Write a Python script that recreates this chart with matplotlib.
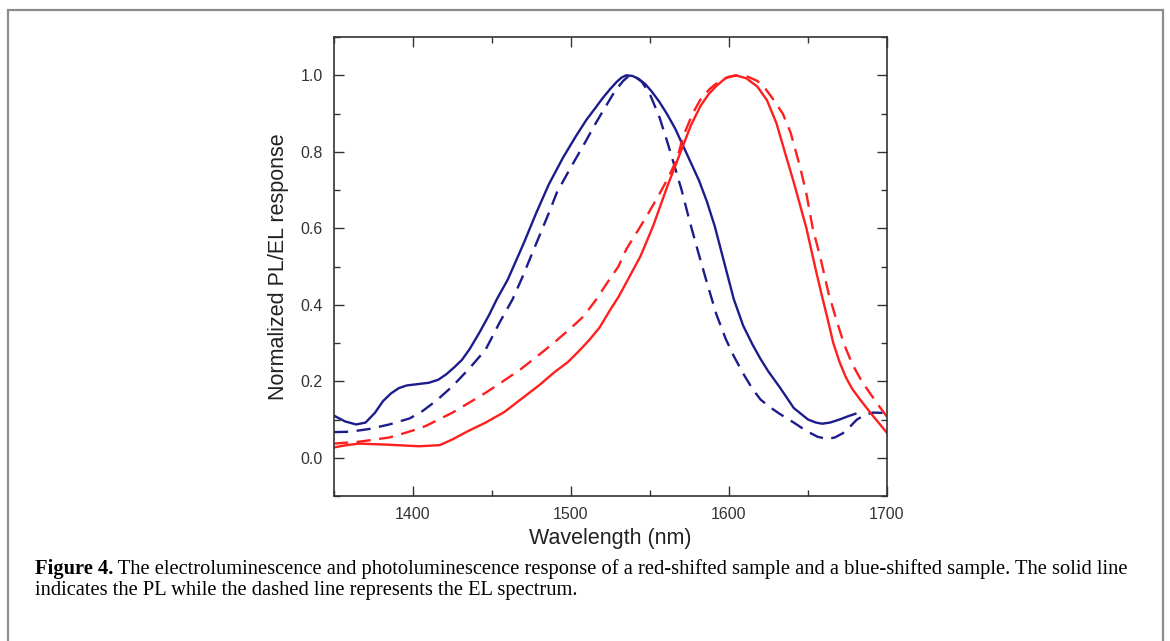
import matplotlib
matplotlib.use('Agg')
import matplotlib.pyplot as plt
from matplotlib.patches import Rectangle
from matplotlib.ticker import MultipleLocator

# blue-shifted sample, PL (solid)
blue_pl_x = [1350, 1357, 1364, 1370, 1376, 1381, 1386, 1391, 1396, 1402, 1410, 1416, 1421,
             1426, 1431, 1436, 1442, 1448, 1453, 1460, 1470, 1478, 1486, 1495, 1503, 1510,
             1515, 1520, 1525, 1529, 1532, 1535, 1539, 1543, 1547, 1551, 1556, 1561, 1566,
             1571, 1576, 1581, 1586, 1591, 1597, 1603, 1609, 1615, 1620, 1625, 1632, 1641,
             1650, 1655, 1659, 1664, 1670, 1675, 1680]
blue_pl_y = [0.11, 0.095, 0.087, 0.092, 0.118, 0.148, 0.168, 0.182, 0.189, 0.192, 0.196, 0.204,
             0.218, 0.236, 0.256, 0.285, 0.327, 0.372, 0.414, 0.466, 0.56, 0.64, 0.715, 0.785,
             0.84, 0.885, 0.912, 0.94, 0.965, 0.983, 0.994, 1.0, 0.998, 0.99, 0.977, 0.958,
             0.93, 0.897, 0.86, 0.815, 0.77, 0.725, 0.67, 0.605, 0.51, 0.415, 0.345, 0.295,
             0.258, 0.225, 0.185, 0.13, 0.1, 0.092, 0.089, 0.092, 0.1, 0.108, 0.115]

# blue-shifted sample, EL (dashed)
blue_el_x = [1350, 1360, 1372, 1385, 1398, 1406, 1415, 1425, 1436, 1446, 1455, 1463,
             1469, 1474, 1480, 1486, 1491, 1500, 1509, 1515, 1520, 1528, 1533, 1537,
             1541, 1545, 1550, 1556, 1561, 1565, 1570, 1575, 1580, 1586, 1592, 1598,
             1603, 1609, 1615, 1620, 1626, 1632, 1641, 1649, 1656, 1662, 1667, 1672,
             1677, 1681, 1686, 1691, 1700]
blue_el_y = [0.067, 0.068, 0.075, 0.087, 0.103, 0.122, 0.15, 0.187, 0.235, 0.283, 0.355, 0.414,
             0.47, 0.52, 0.58, 0.64, 0.693, 0.76, 0.825, 0.87, 0.905, 0.96, 0.985, 1.0,
             0.995, 0.982, 0.95, 0.89, 0.825, 0.77, 0.7, 0.62, 0.545, 0.458, 0.375, 0.31,
             0.266, 0.22, 0.179, 0.152, 0.132, 0.115, 0.092, 0.07, 0.055, 0.049, 0.053, 0.064,
             0.083, 0.1, 0.112, 0.118, 0.117]

# red-shifted sample, PL (solid)
red_pl_x = [1350, 1358, 1366, 1385, 1404, 1417, 1425, 1435, 1446, 1458, 1468, 1480,
            1489, 1498, 1506, 1512, 1518, 1525, 1530, 1535, 1544, 1552, 1561, 1570,
            1576, 1582, 1587, 1592, 1598, 1604, 1611, 1618, 1624, 1630, 1636, 1641, 1645,
            1649, 1655, 1659, 1662, 1666, 1670, 1674, 1678, 1683, 1690, 1695, 1700]
red_pl_y = [0.027, 0.033, 0.037, 0.034, 0.03, 0.033, 0.048, 0.07, 0.092, 0.12, 0.152, 0.19,
            0.222, 0.25, 0.283, 0.31, 0.34, 0.388, 0.42, 0.458, 0.527, 0.606, 0.71, 0.806,
            0.87, 0.92, 0.95, 0.972, 0.993, 1.0, 0.992, 0.97, 0.935, 0.875, 0.79, 0.72, 0.66,
            0.6, 0.49, 0.42, 0.37, 0.3, 0.25, 0.21, 0.18, 0.152, 0.115, 0.09, 0.065]

# red-shifted sample, EL (dashed)
red_el_x = [1350, 1366, 1385, 1395, 1402, 1408, 1425, 1436, 1446, 1457, 1468, 1480,
            1489, 1501, 1508, 1516, 1523, 1530, 1535, 1548, 1556, 1561, 1567, 1571,
            1577, 1582, 1588, 1594, 1600, 1607, 1612, 1618, 1623, 1628, 1634, 1639, 1645,
            1649, 1653, 1658, 1663, 1668, 1673, 1678, 1684, 1689, 1695, 1700]
red_el_y = [0.037, 0.042, 0.053, 0.065, 0.074, 0.083, 0.118, 0.145, 0.17, 0.2, 0.231, 0.27,
            0.3, 0.343, 0.37, 0.414, 0.458, 0.5, 0.545, 0.632, 0.69, 0.728, 0.78, 0.84,
            0.9, 0.937, 0.965, 0.985, 0.996, 1.0, 0.996, 0.985, 0.965, 0.937, 0.9, 0.85, 0.76,
            0.69, 0.6, 0.52, 0.43, 0.36, 0.295, 0.245, 0.2, 0.17, 0.135, 0.107]

caption_bold = 'Figure 4.'
caption_1 = (' The electroluminescence and photoluminescence response of a red-shifted sample '
             'and a blue-shifted sample. The solid line')
caption_2 = 'indicates the PL while the dashed line represents the EL spectrum.'

navy = '#1c1c8c'
red = '#ff1f1f'

plt.rcParams['font.family'] = ['Liberation Sans', 'DejaVu Sans']

fig = plt.figure(figsize=(11.7, 6.41), dpi=100)
ax = fig.add_axes([334 / 1170, 1 - 496 / 641, 553 / 1170, 459 / 641])

ax.plot(blue_pl_x, blue_pl_y, color=navy, lw=1.7)
ax.plot(blue_el_x, blue_el_y, color=navy, lw=1.7, dashes=(6, 3.6))
ax.plot(red_pl_x, red_pl_y, color=red, lw=1.7)
ax.plot(red_el_x, red_el_y, color=red, lw=1.7, dashes=(6, 3.6))

ax.set_xlim(1350, 1700)
ax.set_ylim(-0.1, 1.1)
ax.xaxis.set_major_locator(MultipleLocator(100))
ax.xaxis.set_minor_locator(MultipleLocator(50))
ax.yaxis.set_minor_locator(MultipleLocator(0.1))
ax.set_yticks([0.0, 0.2, 0.4, 0.6, 0.8, 1.0])
ax.set_yticklabels(['0.0', '0.2', '0.4', '0.6', '0.8', '1.0'])

ax.tick_params(which='both', direction='in', top=True, right=True, color='#333333', width=1)
ax.tick_params(which='major', length=7, labelsize=11.5, labelcolor='#333333', pad=8)
ax.tick_params(which='minor', length=4)
for s in ax.spines.values():
    s.set_color('#333333')
    s.set_linewidth(1.2)

ax.set_xlabel('Wavelength (nm)', fontsize=15.5, color='#222222', labelpad=4)
ax.set_ylabel('Normalized PL/EL response', fontsize=15.5, color='#222222', labelpad=8)

# page frame
fig.patches.append(Rectangle((8 / 1170, -0.05), 1155 / 1170, 1.05 - 10 / 641,
                             transform=fig.transFigure, fill=False,
                             edgecolor='#8c8c8c', lw=1.6))

t = fig.text(35 / 1170, 1 - 574 / 641, caption_bold, fontsize=14.75, fontweight='bold',
             family='Liberation Serif', va='baseline', ha='left')
fig.canvas.draw()
bb = t.get_window_extent()
fig.text(bb.x1 / 1170, 1 - 574 / 641, caption_1, fontsize=14.75,
         family='Liberation Serif', va='baseline', ha='left')
fig.text(35 / 1170, 1 - 595 / 641, caption_2, fontsize=14.75,
         family='Liberation Serif', va='baseline', ha='left')

fig.savefig('out.png', dpi=100)
